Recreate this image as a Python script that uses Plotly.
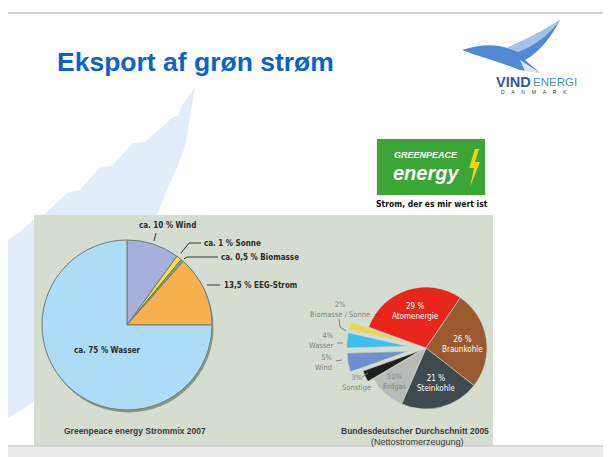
import plotly.graph_objects as go

# the page body has an 8px margin: map reference pixel coords into the figure
OFF = 8
W, H = 611 - OFF, 457 - OFF
def px(x): return (x - OFF) / W
def py(y): return 1 - (y - OFF) / H

# ---------------- data ----------------
gp_labels = ["Wind", "Sonne", "Biomasse", "EEG-Strom", "Wasser"]
gp_values = [10, 1, 0.5, 13.5, 75]
gp_texts = ["ca. 10 % Wind", "ca. 1 % Sonne", "ca. 0,5 % Biomasse", "13,5 % EEG-Strom", "ca. 75 % Wasser"]

de_labels = ["Atomenergie", "Braunkohle", "Steinkohle", "Erdgas", "Sonstige", "Wind", "Wasser", "Biomasse / Sonne"]
de_values = [29, 26, 21, 10, 3, 5, 4, 2]
de_pct = ["29 %", "26 %", "21 %", "10%", "3%", "5%", "4%", "2%"]

title_text = "Eksport af grøn strøm"
gp_caption = "Greenpeace energy Strommix 2007"
de_caption = "Bundesdeutscher Durchschnitt 2005"
de_subcaption = "(Nettostromerzeugung)"

# ---------------- styles ----------------
NARROW = "DejaVu Sans Condensed, Liberation Sans Narrow, Arial Narrow, sans-serif"
ARIAL = "Liberation Sans, Arial, Helvetica, sans-serif"
PANEL = "#d5ddd1"
gp_colors = ["#a9afdd", "#f6e04a", "#8ea45c", "#f5b24f", "#aedcf7"]
de_colors = ["#e8261b", "#9a5a2d", "#3f4a4f", "#b9bbb6", "#1c2020", "#6f90cc", "#40bfee", "#e7d84b"]
de_pull = [0, 0, 0, 0, 0.1, 0.3, 0.3, 0.3]

def dom(cx, cy, half):
    return dict(x=[px(cx - half), px(cx + half)], y=[py(cy + half), py(cy - half)])

fig = go.Figure()

# shadow of the left pie
fig.add_trace(go.Pie(values=[1], labels=["s"], sort=False, textinfo="none", hoverinfo="skip",
                     marker=dict(colors=["rgba(60,80,60,0.5)"], line=dict(width=0)),
                     domain=dom(128.5, 327.5, 85), showlegend=False))
# left pie
fig.add_trace(go.Pie(values=gp_values, labels=gp_labels, sort=False, direction="clockwise", rotation=0,
                     textinfo="none", marker=dict(colors=gp_colors, line=dict(color="#6f7c72", width=1)),
                     domain=dom(127, 325, 85), showlegend=False))
# right pie
fig.add_trace(go.Pie(values=de_values, labels=de_labels, sort=False, direction="clockwise", rotation=290,
                     textinfo="none", pull=de_pull,
                     marker=dict(colors=de_colors, line=dict(color="#cfd6cc", width=0.6)),
                     domain=dom(426, 348, 61 * 1.3), showlegend=False))

shapes = []
def rect(x0, y0, x1, y1, fill, layer="below"):
    shapes.append(dict(type="rect", xref="paper", yref="paper", x0=px(x0), x1=px(x1), y0=py(y1), y1=py(y0),
                       fillcolor=fill, line=dict(width=0), layer=layer))
def seg(pts, color="#333333", width=1, layer="above"):
    for (a, b), (c, d) in zip(pts[:-1], pts[1:]):
        shapes.append(dict(type="line", xref="paper", yref="paper", x0=px(a), y0=py(b), x1=px(c), y1=py(d),
                           line=dict(color=color, width=width), layer=layer))
def path(p, fill, layer="below", opacity=1.0):
    s = ""
    for cmd, coords in p:
        s += cmd
        if coords:
            pairs = [f"{px(coords[i]):.5f},{py(coords[i+1]):.5f}" for i in range(0, len(coords), 2)]
            s += " ".join(pairs) + " "
    shapes.append(dict(type="path", xref="paper", yref="paper", path=s.strip(), fillcolor=fill,
                       line=dict(width=0), layer=layer, opacity=opacity))
def poly(pts, fill, layer="below", opacity=1.0):
    p = [("M", list(pts[0]))] + [("L", list(q)) for q in pts[1:]] + [("Z", [])]
    path(p, fill, layer, opacity)

# background watermark feather
poly([(195, 87), (188, 130), (185, 147), (176, 170), (167, 190), (157, 215), (34, 215), (34, 402),
      (8, 418), (8, 240), (20, 232), (33, 220), (45, 214), (67, 193), (80, 190), (100, 167),
      (112, 166), (133, 143), (145, 142), (173, 117), (178, 116), (182, 105)], "#e3edf9")
# top rule
seg([(8, 13), (611, 13)], color="#d3d3d3", width=2, layer="below")
# panel
rect(34, 215, 493, 447, PANEL)
# bottom band
rect(8, 446, 611, 457, "#ececec")
seg([(8, 446), (611, 446)], color="#cfcfcf", width=1.5, layer="below")

# bird logo
path([("M", [462, 50]), ("C", [480, 44, 495, 44, 507, 48]), ("C", [525, 40, 545, 30, 560, 20]),
      ("C", [552, 36, 540, 52, 525, 60]), ("L", [540, 73]), ("L", [520, 70]),
      ("C", [500, 62, 480, 57, 462, 50]), ("Z", [])], "#5289d3")
path([("M", [507, 48]), ("C", [525, 40, 545, 30, 560, 20]), ("C", [550, 34, 535, 46, 518, 52]), ("Z", [])],
     "#a2c3ec")
path([("M", [520, 60]), ("L", [540, 73]), ("L", [525, 71]), ("Z", [])], "#ffffff", opacity=0.8)

# greenpeace energy logo
rect(377, 139, 485, 195, "#3ba535")
poly([(475, 149), (469, 168), (474, 168), (470, 187), (480, 162), (475, 162), (479, 149)], "#f3d21a",
     layer="above")

# leader lines, left pie
lc = "#333333"
seg([(156, 233), (154, 241)], lc)
seg([(181, 253), (189, 243), (201, 243)], lc)
seg([(184, 259), (187, 257), (218, 257)], lc)
seg([(207, 285), (220, 285)], lc)
# leader lines, right pie
gc = "#7d837b"
seg([(339, 319), (340, 327), (346, 331)], gc)
seg([(337, 343), (343, 343)], gc)
seg([(336, 361), (342, 360)], gc)
seg([(362, 377), (368, 373)], gc)

ann = []
def text(x, y, t, size, color, family=NARROW, bold=False, xanchor="center", align="center", italic=False):
    if bold:
        t = f"<b>{t}</b>"
    if italic:
        t = f"<i>{t}</i>"
    ann.append(dict(x=px(x), y=py(y), xref="paper", yref="paper", text=t, showarrow=False,
                    xanchor=xanchor, yanchor="middle", align=align,
                    font=dict(family=family, size=size, color=color)))

# title
text(55, 62, title_text, 26.5, "#0a64c8", family=ARIAL, bold=True, xanchor="left")
# vind energi
text(494, 82, "VIND", 14.5, "#2a5aa6", family=ARIAL, bold=True, xanchor="left")
text(531, 82, "ENERGI", 11.5, "#4a8ad8", family=ARIAL, xanchor="left")
text(534, 92, "D     A     N     M     A     R     K", 5, "#333333", family=ARIAL)
# greenpeace logo texts
text(426, 155, "GREENPEACE", 9, "#ffffff", family=ARIAL, bold=True, italic=True)
text(426, 173, "energy", 20, "#ffffff", family=ARIAL, bold=True, italic=True)
text(432, 204, "Strom, der es mir wert ist", 8.5, "#111111", family=NARROW, bold=True)

# left pie labels
dark = "#2b2b2b"
text(137, 225, gp_texts[0], 8, dark, bold=True, xanchor="left")
text(202, 243, gp_texts[1], 8, dark, bold=True, xanchor="left")
text(219, 257, gp_texts[2], 8, dark, bold=True, xanchor="left")
text(222, 285, gp_texts[3], 8, dark, bold=True, xanchor="left")
text(107, 350, gp_texts[4], 8, dark, bold=True)
text(62, 431, gp_caption, 8.5, "#3a3a3a", family=ARIAL, bold=True, xanchor="left")

# right pie labels
w = "#ffffff"
text(415, 311, f"{de_pct[0]}<br>{de_labels[0]}", 8, w)
text(462, 344, f"{de_pct[1]}<br>{de_labels[1]}", 8, w)
text(436, 383, f"{de_pct[2]}<br>{de_labels[2]}", 8, w)
text(395, 381, f"{de_pct[3]}<br>{de_labels[3]}", 7.5, "#80857f")
text(356, 382, f"{de_pct[4]}<br>{de_labels[4]}", 7.5, gc)
text(335, 362, f"{de_pct[5]}<br>{de_labels[5]}", 7.5, gc, xanchor="right", align="right")
text(336, 340, f"{de_pct[6]}<br>{de_labels[6]}", 7.5, gc, xanchor="right", align="right")
text(340, 309, f"{de_pct[7]}<br>{de_labels[7]}", 7.5, gc)
text(491, 431, de_caption, 8.5, "#3a3a3a", family=ARIAL, bold=True, xanchor="right")
text(417, 442, de_subcaption, 9, "#3a3a3a", family=ARIAL)

fig.update_layout(width=W, height=H, margin=dict(l=0, r=0, t=0, b=0),
                  paper_bgcolor="#ffffff", plot_bgcolor="#ffffff",
                  shapes=shapes, annotations=ann, showlegend=False)
fig.write_html("out.html")
